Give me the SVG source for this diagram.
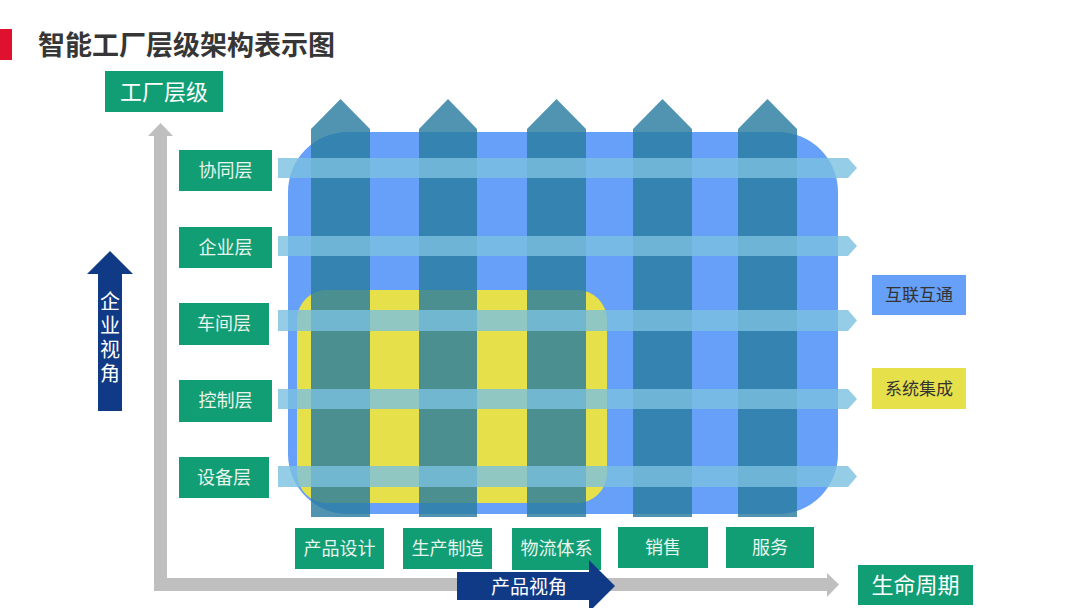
<svg xmlns="http://www.w3.org/2000/svg" width="1080" height="608" viewBox="0 0 1080 608">
<defs>
<style>
.t{font-family:"Noto Sans CJK SC","Liberation Sans",sans-serif;}
.gbox{fill:#129E74;}
.glab{fill:#E8F4EE;font-size:18px;text-anchor:middle;}
.big{fill:#FFFFFF;font-size:22px;text-anchor:middle;}
.col{fill:#297CA1;fill-opacity:0.82;}
.bar{fill:#7CC0E0;fill-opacity:0.8;}
.dark{fill:#333333;font-size:17px;text-anchor:middle;}
</style>
</defs>
<rect width="1080" height="608" fill="#FFFFFF"/>
<g id="title">
<rect x="0" y="29" width="12" height="31" fill="#E0102F"/>
<text class="t" x="38" y="55" font-size="27" font-weight="bold" fill="#363636">智能工厂层级架构表示图</text>
</g>
<g id="axes">
<path d="M154,591 V136 H148 L160.5,123 L173,136 H167 V578 H827 V573 L839,584.5 L827,597 V591 Z" fill="#BFBFBF"/>
</g>
<g id="blue-area"><rect x="288" y="132" width="550" height="382" rx="60" ry="60" fill="#66A0F8"/></g>
<g id="yellow-area"><rect x="297" y="290" width="310" height="213" rx="30" ry="30" fill="#E6E04A"/></g>
<g id="columns">
<path class="col" d="M311,517 V129 L340.5,99 L370,129 V517 Z"/>
<path class="col" d="M419,517 V129 L448,99 L477,129 V517 Z"/>
<path class="col" d="M527,517 V129 L556.5,99 L586,129 V517 Z"/>
<path class="col" d="M633,517 V129 L662.5,99 L692,129 V517 Z"/>
<path class="col" d="M738,517 V129 L767.5,99 L797,129 V517 Z"/>
</g>
<g id="connectors">
<path class="bar" d="M278,158 H848 L857,168 L848,178 H278 Z"/>
<path class="bar" d="M278,236 H848 L857,246 L848,256 H278 Z"/>
<path class="bar" d="M278,310 H848 L857,320.5 L848,331 H278 Z"/>
<path class="bar" d="M278,389 H848 L857,399 L848,409 H278 Z"/>
<path class="bar" d="M278,466 H848 L857,476.5 L848,487 H278 Z"/>
</g>
<g id="node-factory-level">
<rect class="gbox" x="105" y="71" width="118" height="41"/>
<text class="t big" x="164" y="99.5">工厂层级</text>
</g>
<g id="node-xietong"><rect class="gbox" x="179" y="150" width="93" height="41"/><text class="t glab" x="225.5" y="176.5">协同层</text></g>
<g id="node-qiye"><rect class="gbox" x="179" y="227" width="93" height="41"/><text class="t glab" x="225.5" y="253.5">企业层</text></g>
<g id="node-chejian"><rect class="gbox" x="179" y="303" width="90" height="42"/><text class="t glab" x="224" y="330">车间层</text></g>
<g id="node-kongzhi"><rect class="gbox" x="179" y="380" width="93" height="42"/><text class="t glab" x="225.5" y="407">控制层</text></g>
<g id="node-shebei"><rect class="gbox" x="179" y="457" width="90" height="41"/><text class="t glab" x="224" y="483.5">设备层</text></g>
<g id="node-enterprise-view">
<path d="M98,411 V274 H87 L110,251 L133,274 H122 V411 Z" fill="#103A86"/>
<text class="t" x="110" y="291" font-size="20" fill="#FFFFFF" writing-mode="tb" letter-spacing="4">企业视角</text>
</g>
<g id="node-design"><rect class="gbox" x="295" y="528" width="89" height="41"/><text class="t glab" x="339.5" y="554.5">产品设计</text></g>
<g id="node-manufacture"><rect class="gbox" x="403" y="528" width="89" height="41"/><text class="t glab" x="447.5" y="554.5">生产制造</text></g>
<g id="node-logistics"><rect class="gbox" x="512" y="528" width="89" height="42"/><text class="t glab" x="556.5" y="555">物流体系</text></g>
<g id="node-sales"><rect class="gbox" x="618" y="527" width="90" height="41"/><text class="t glab" x="663" y="553.5">销售</text></g>
<g id="node-service"><rect class="gbox" x="726" y="527" width="88" height="41"/><text class="t glab" x="770" y="553.5">服务</text></g>
<g id="node-product-view">
<path d="M457,572 H589 V560 L615,586 L589,612 V600 H457 Z" fill="#103A86"/>
<text class="t" x="529" y="594" font-size="19" fill="#FFFFFF" text-anchor="middle">产品视角</text>
</g>
<g id="node-lifecycle"><rect class="gbox" x="858" y="565" width="115" height="40"/><text class="t big" x="915.5" y="593">生命周期</text></g>
<g id="node-interconnect"><rect x="872" y="275" width="94" height="40" fill="#66A0F8"/><text class="t dark" x="919" y="301">互联互通</text></g>
<g id="node-integration"><rect x="872" y="368" width="94" height="41" fill="#E6E04A"/><text class="t dark" x="919" y="394.5">系统集成</text></g>
</svg>
